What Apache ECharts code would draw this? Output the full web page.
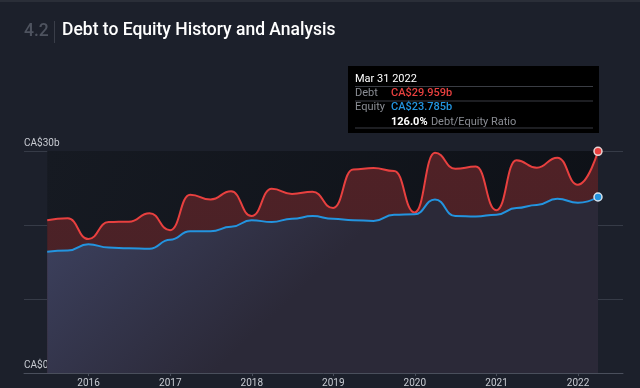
<!DOCTYPE html>
<html>
<head>
<meta charset="utf-8">
<script src="https://cdn.jsdelivr.net/npm/echarts@6/dist/echarts.min.js"></script>
<style>
html,body{margin:0;padding:0;background:#1c202b;}
#c{width:640px;height:388px;}
</style>
</head>
<body>
<div id="c"></div>
<script>
const dates = ['2015-06-30','2015-09-30','2015-12-31','2016-03-31','2016-06-30','2016-09-30','2016-12-31',
  '2017-03-31','2017-06-30','2017-09-30','2017-12-31','2018-03-31','2018-06-30','2018-09-30','2018-12-31',
  '2019-03-31','2019-06-30','2019-09-30','2019-12-31','2020-03-31','2020-06-30','2020-09-30','2020-12-31',
  '2021-03-31','2021-06-30','2021-09-30','2021-12-31','2022-03-31'];
const debt = [20.65,20.9,18.1,20.4,20.45,21.6,19.3,24.1,23.45,24.55,21.2,24.9,24.2,24.5,22.3,
  27.5,27.7,27.3,21.7,29.75,27.6,27.9,22.0,28.75,27.75,29.1,25.45,29.959];
const equity = [16.4,16.55,17.4,16.95,16.85,16.8,18.0,19.15,19.15,19.75,20.65,20.4,20.85,21.2,20.85,
  20.65,20.55,21.4,21.45,23.45,21.2,21.15,21.4,22.3,22.7,23.55,23.0,23.785];
const yTicks = [0,10,20,30];
const yTickLabels = {0:'CA$0',30:'CA$30b'};
const tipDate = 'Mar 31 2022';
const tipDebt = 'CA$29.959b';
const tipEquity = 'CA$23.785b';
const tipRatio = '126.0%';

const chart = echarts.init(document.getElementById('c'));
const last = dates.length - 1;
const debtData = dates.map((d,i)=>[d,debt[i]]);
const eqData = dates.map((d,i)=>[d,equity[i]]);
const YEAR = 365.25*86400000;

chart.setOption({
  backgroundColor:'#1c202b',
  animation:false,
  textStyle:{fontFamily:'Roboto'},
  grid:{left:24,right:17,top:151,bottom:15,containLabel:false},
  xAxis:{
    type:'time',
    min:'2015-03-18', max:'2022-07-21',
    minInterval:YEAR, maxInterval:YEAR,
    axisLine:{lineStyle:{color:'#4a4f5c',width:1}},
    axisTick:{show:true,length:3,lineStyle:{color:'#4a4f5c'}},
    axisLabel:{color:'#c8cbd2',fontSize:10,margin:5,formatter:'{yyyy}'},
    splitLine:{show:false}
  },
  yAxis:{
    type:'value',min:yTicks[0],max:yTicks[yTicks.length-1],interval:10,
    axisLine:{show:false},axisTick:{show:false},
    splitLine:{lineStyle:{color:'#363b47',width:1}},
    axisLabel:{inside:true,margin:0,color:'#c8cbd2',fontSize:10,verticalAlign:'bottom',align:'left',padding:[0,0,3,0],
      formatter:v=>yTickLabels[v]||''}
  },
  series:[
    {
      type:'line',name:'bg',data:[[dates[0],30],[dates[last],30]],symbol:'none',lineStyle:{width:0},
      areaStyle:{opacity:1,color:new echarts.graphic.LinearGradient(0,0,1,1,[{offset:0,color:'#161a22'},{offset:1,color:'#0d1016'}])},
      z:1,silent:true
    },
    {
      type:'line',name:'Debt',data:debtData,smooth:0.5,smoothMonotone:'x',
      showSymbol:false,symbol:'circle',symbolSize:8,
      lineStyle:{color:'#e8403f',width:2},
      areaStyle:{opacity:1,color:new echarts.graphic.LinearGradient(0,0,0,1,[{offset:0,color:'#502126'},{offset:1,color:'#432227'}])},
      markPoint:{symbol:'circle',symbolSize:8,itemStyle:{color:'#e8403f',borderColor:'#e8d6d6',borderWidth:1.5},label:{show:false},
        data:[{coord:[dates[last],debt[last]]}]},
      markLine:{silent:true,symbol:'none',label:{show:false},lineStyle:{color:'#2b4a5c',width:1,type:'solid'},
        data:[[{coord:[dates[last],0]},{coord:[dates[last],31.5]}]]},
      z:3
    },
    {
      type:'line',name:'Equity',data:eqData,smooth:0.5,smoothMonotone:'x',
      showSymbol:false,
      lineStyle:{color:'#2394df',width:2},
      areaStyle:{opacity:1,color:new echarts.graphic.LinearGradient(0,0,0.3,1,[{offset:0,color:'#3e4362'},{offset:1,color:'#2b2938'}])},
      markPoint:{symbol:'circle',symbolSize:8,itemStyle:{color:'#2394df',borderColor:'#d6e2ec',borderWidth:1.5},label:{show:false},
        data:[{coord:[dates[last],equity[last]]}]},
      z:4
    }
  ],
  graphic:[
    {type:'rect',shape:{x:0,y:0,width:640,height:2},style:{fill:'#2a2e38'}},
    {type:'text',left:24,top:23,style:{text:'4.2',fill:'#4e535f',font:'500 17.5px Roboto'}},
    {type:'rect',shape:{x:54,y:21,width:1,height:22},style:{fill:'#3a3e49'}},
    {type:'text',left:62,top:22,style:{text:'Debt to Equity History and Analysis',fill:'#ffffff',font:'500 17.5px Roboto'}},
    {type:'group',left:348,top:66,children:[
      {type:'rect',shape:{x:0,y:0,width:251,height:67},style:{fill:'#000000'}},
      {type:'text',x:7,y:7,style:{text:tipDate,fill:'#ffffff',font:'11px Roboto',lineHeight:13,verticalAlign:'top'}},
      {type:'rect',shape:{x:7,y:20,width:238,height:1},style:{fill:'#3a3d44'}},
      {type:'text',x:7,y:22,style:{text:'Debt',fill:'#8a8d94',font:'11px Roboto'}},
      {type:'text',x:43,y:22,style:{text:tipDebt,fill:'#e8403f',font:'500 11px Roboto'}},
      {type:'rect',shape:{x:7,y:34.5,width:238,height:1},style:{fill:'#3a3d44'}},
      {type:'text',x:7,y:36,style:{text:'Equity',fill:'#8a8d94',font:'11px Roboto'}},
      {type:'text',x:43,y:36,style:{text:tipEquity,fill:'#2394df',font:'500 11px Roboto'}},
      {type:'text',x:43,y:50,style:{rich:{a:{fill:'#ffffff',font:'bold 11px Roboto'},b:{fill:'#8a8d94',font:'11px Roboto'}},text:'{a|'+tipRatio+'} {b|Debt/Equity Ratio}'}},
      {type:'rect',shape:{x:7,y:61.5,width:238,height:1},style:{fill:'#3a3d44'}}
    ]}
  ]
});
</script>
</body>
</html>
